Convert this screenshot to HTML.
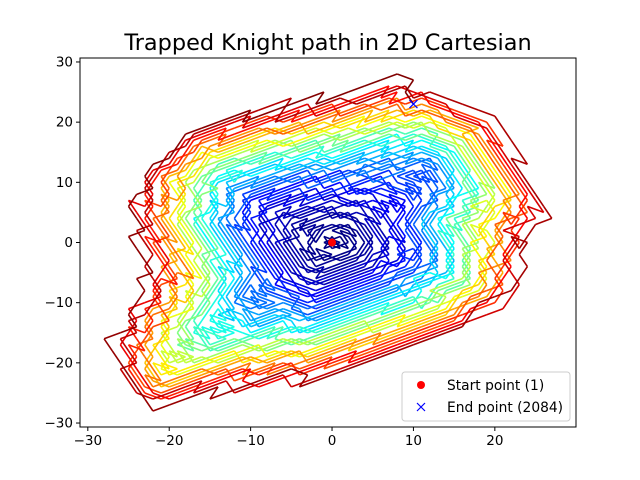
<!DOCTYPE html>
<html><head><meta charset="utf-8"><style>
body{margin:0;background:#fff;}
svg{display:block;font-family:"DejaVu Sans","Liberation Sans",sans-serif;}
</style></head><body>
<svg id="chart" width="640" height="480" viewBox="0 0 640 480" xmlns="http://www.w3.org/2000/svg">
<rect width="640" height="480" fill="#fff"/>
<text x="328" y="50" text-anchor="middle" font-size="22.4">Trapped Knight path in 2D Cartesian</text>
<g id="plot"></g>
<rect x="80" y="58" width="496" height="369" fill="none" stroke="#000" stroke-width="1"/>
<g id="ticks"></g>
<g>
<rect x="402" y="372" width="168" height="49" rx="3" fill="#fff" fill-opacity="0.8" stroke="#ccc"/>
<circle cx="421" cy="385" r="4" fill="red"/>
<text x="447" y="390" font-size="13.8">Start point (1)</text>
<path d="M417 403l8 8M425 403l-8 8" stroke="blue" stroke-width="1.2"/>
<text x="447" y="412" font-size="13.8">End point (2084)</text>
</g>
</svg>
<script>
const xTicks=[-30,-20,-10,0,10,20];
const yTicks=[-30,-20,-10,0,10,20,30];
const startLabel="Start point (1)";
const endLabel="End point (2084)";
// Path data: trapped knight on square spiral (computed sequence)
const spiralNum={};
(function(){let x=0,y=0,n=1;spiralNum[x+","+y]=n;
const dirs=[[1,0],[0,1],[-1,0],[0,-1]];let d=0,len=1;
while(n<20000){for(let r=0;r<2;r++){for(let s=0;s<len;s++){x+=dirs[d][0];y+=dirs[d][1];n++;spiralNum[x+","+y]=n;}d=(d+1)%4;}len++;}})();
const pathX=[0],pathY=[0];
(function(){const seen={"0,0":1};const mv=[[1,2],[2,1],[2,-1],[1,-2],[-1,-2],[-2,-1],[-2,1],[-1,2]];
let cx=0,cy=0;while(true){let best=null,bn=Infinity;for(const m of mv){const k=(cx+m[0])+","+(cy+m[1]);if(!seen[k]&&spiralNum[k]<bn){bn=spiralNum[k];best=m;}}
if(!best)break;cx+=best[0];cy+=best[1];seen[cx+","+cy]=1;pathX.push(cx);pathY.push(cy);}})();

const X0=-30.96,X1=29.97,Y0=-30.66,Y1=30.66,L=80,R=576,T=58,B=427;
const sx=v=>L+(v-X0)/(X1-X0)*(R-L);
const sy=v=>B-(v-Y0)/(Y1-Y0)*(B-T);
const NS="http://www.w3.org/2000/svg";
const cl=v=>Math.max(0,Math.min(1,v));
function jet(t){const r=cl(1.5-Math.abs(4*t-3)),g=cl(1.5-Math.abs(4*t-2)),b=cl(1.5-Math.abs(4*t-1));
return `rgb(${Math.round(r*255)},${Math.round(g*255)},${Math.round(b*255)})`;}
const plot=document.getElementById('plot');
const N=pathX.length;
for(let i=0;i<N-1;i++){const l=document.createElementNS(NS,'line');


l.setAttribute('x1',sx(pathX[i]));l.setAttribute('y1',sy(pathY[i]));l.setAttribute('x2',sx(pathX[i+1]));l.setAttribute('y2',sy(pathY[i+1]));
l.setAttribute('stroke',jet(i/(N-2)));l.setAttribute('stroke-width','1.6');plot.appendChild(l);}
const sp=document.createElementNS(NS,'circle');


sp.setAttribute('cx',sx(pathX[0]));sp.setAttribute('cy',sy(pathY[0]));sp.setAttribute('r',4);sp.setAttribute('fill','red');plot.appendChild(sp);
const ex=sx(pathX[N-1]),ey=sy(pathY[N-1]);
const ep=document.createElementNS(NS,'path');


ep.setAttribute('d',`M${ex-4} ${ey-4}l8 8M${ex+4} ${ey-4}l-8 8`);ep.setAttribute('stroke','blue');ep.setAttribute('stroke-width','1.2');plot.appendChild(ep);
const tg=document.getElementById('ticks');
xTicks.forEach(v=>{const x=sx(v);const l=document.createElementNS(NS,'line');


l.setAttribute('x1',x);l.setAttribute('x2',x);l.setAttribute('y1',B);l.setAttribute('y2',B+4);l.setAttribute('stroke','#000');tg.appendChild(l);
const t=document.createElementNS(NS,'text');


t.setAttribute('x',x);t.setAttribute('y',B+18);t.setAttribute('text-anchor','middle');t.setAttribute('font-size','13.5');t.textContent=v<0?'\u2212'+(-v):v;tg.appendChild(t);});
yTicks.forEach(v=>{const y=sy(v);const l=document.createElementNS(NS,'line');


l.setAttribute('x1',L-4);l.setAttribute('x2',L);l.setAttribute('y1',y);l.setAttribute('y2',y);l.setAttribute('stroke','#000');tg.appendChild(l);
const t=document.createElementNS(NS,'text');


t.setAttribute('x',L-7);t.setAttribute('y',y+4.5);t.setAttribute('text-anchor','end');t.setAttribute('font-size','13.5');t.textContent=v<0?'\u2212'+(-v):v;tg.appendChild(t);});
</script>
</body></html>
